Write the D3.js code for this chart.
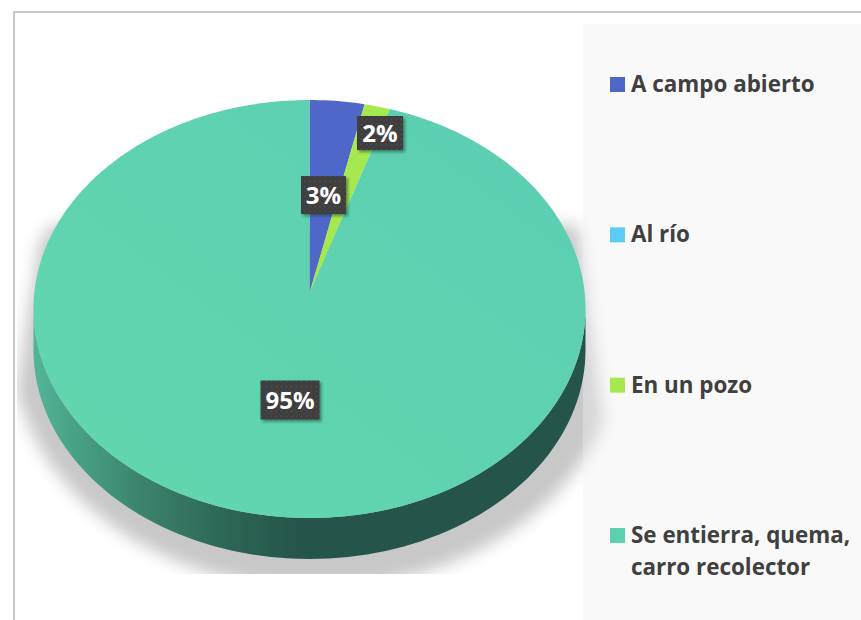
<!DOCTYPE html>
<html><head><meta charset="utf-8">
<script src="https://cdn.jsdelivr.net/npm/d3@7"></script>
<style>html,body{margin:0;padding:0;background:#fff}svg{display:block}</style>
</head><body><div id="c"></div>
<script>
const categories = ["A campo abierto", "Al río", "En un pozo", "Se entierra, quema, carro recolector"];
const values = [3.2, 0, 1.5, 95.3];
const colors = ["#4F67C9", "#5BCDF5", "#A6E94F", "#5CD0B1"];
const legendLines = [["A campo abierto"], ["Al río"], ["En un pozo"], ["Se entierra, quema,", "carro recolector"]];

const W = 861, H = 620;
const cx = 309.5, cy = 309, rx = 276, ry = 209, depth = 41, apexLift = 16;
const font = "'Open Sans', sans-serif";
const labelPos = [[323.5, 195], null, [380, 133], [290, 400]];
const labelSize = [[45, 38], null, [46, 34], [59, 39]];

const svg = d3.select("#c").append("svg").attr("width", W).attr("height", H);
const defs = svg.append("defs");

const sideGrad = defs.append("linearGradient").attr("id", "side").attr("gradientUnits", "userSpaceOnUse")
  .attr("x1", cx - rx).attr("x2", cx + rx).attr("y1", 0).attr("y2", 0);
[[0, "#53B598"], [.08, "#47A086"], [.2, "#3B826C"], [.35, "#2D6656"], [.48, "#25544A"], [1, "#25544A"]]
  .forEach(([o, c]) => sideGrad.append("stop").attr("offset", o).attr("stop-color", c));

const topGrad = defs.append("linearGradient").attr("id", "topFill").attr("x1", 0).attr("y1", 1).attr("x2", 1).attr("y2", 0);
[[0, "#62D7AE"], [.45, "#5FD3B0"], [1, "#5BCEB3"]]
  .forEach(([o, c]) => topGrad.append("stop").attr("offset", o).attr("stop-color", c));

defs.append("filter").attr("id", "blur").attr("x", "-10%").attr("y", "-10%").attr("width", "120%").attr("height", "120%")
  .append("feGaussianBlur").attr("stdDeviation", 8);
const ds = defs.append("filter").attr("id", "boxShadow").attr("x", "-20%").attr("y", "-20%").attr("width", "150%").attr("height", "150%");
ds.append("feDropShadow").attr("dx", 2).attr("dy", 2).attr("stdDeviation", 1.6).attr("flood-color", "#0b3a2c").attr("flood-opacity", .55);
const pat = defs.append("pattern").attr("id", "dots").attr("patternUnits", "userSpaceOnUse").attr("width", 5).attr("height", 5);
pat.append("rect").attr("width", 5).attr("height", 5).attr("fill", "#3E3E3E");
pat.append("circle").attr("cx", 1.5).attr("cy", 1.5).attr("r", 1).attr("fill", "#4C4C4C");
pat.append("circle").attr("cx", 4).attr("cy", 4).attr("r", .8).attr("fill", "#484848");

defs.append("clipPath").attr("id", "shadowOuter").append("rect")
  .attr("x", 17).attr("y", 0).attr("width", 700).attr("height", 574);
defs.append("clipPath").attr("id", "shadowTaper").append("polygon")
  .attr("points", [[42, 225], [15, 400], [12, 620], [622, 620], [606, 440], [578, 225]].join(" "));

// frame
svg.append("rect").attr("x", 14).attr("y", 12).attr("width", W).attr("height", H).attr("fill", "#fff")
  .attr("stroke", "#C8C8C8").attr("stroke-width", 2);

// legend panel
const panel = () => svg.append("rect").attr("x", 583).attr("y", 24.5).attr("width", W - 583).attr("height", H - 24).attr("fill", "#FAFAFA");
panel();

// shadow
svg.append("g").attr("clip-path", "url(#shadowOuter)")
  .append("g").attr("filter", "url(#blur)")
  .append("g").attr("clip-path", "url(#shadowTaper)")
  .append("ellipse").attr("cx", cx + 6).attr("cy", 345).attr("rx", 304).attr("ry", 243).attr("fill", "#C8C8C8");
panel().attr("opacity", .3);

// extrusion
const rimX = a => cx + rx * Math.sin(a), rimY = a => cy - ry * Math.cos(a);
const lower = d3.range(90, 270.5, 2).map(d => d * Math.PI / 180);
const side = d3.line()([
  ...lower.map(a => [rimX(a), rimY(a)]),
  ...lower.slice().reverse().map(a => [rimX(a), rimY(a) + depth])
]) + "Z";
svg.append("path").attr("d", side).attr("fill", "url(#side)");

// slices
const arcs = d3.pie().sort(null).value(d => d)(values);
const slicePath = d => {
  const n = Math.max(2, Math.ceil((d.endAngle - d.startAngle) / .02));
  const pts = d3.range(n + 1).map(i => {
    const a = d.startAngle + (d.endAngle - d.startAngle) * i / n;
    return [rimX(a), rimY(a)];
  });
  return d3.line()([[cx, cy - apexLift], ...pts]) + "Z";
};
svg.append("g").selectAll("path").data(arcs.filter(d => d.value > 0)).join("path")
  .attr("d", slicePath).attr("fill", d => d.index === 3 ? "url(#topFill)" : colors[d.index]);

// data labels
const total = d3.sum(values), fmt = d3.format(".0%");
const lab = svg.append("g").selectAll("g").data(arcs.filter(d => d.value > 0)).join("g")
  .attr("transform", d => `translate(${labelPos[d.index]})`);
lab.append("rect")
  .attr("x", d => -labelSize[d.index][0] / 2).attr("y", d => -labelSize[d.index][1] / 2)
  .attr("width", d => labelSize[d.index][0]).attr("height", d => labelSize[d.index][1])
  .attr("fill", "url(#dots)").attr("filter", "url(#boxShadow)");
lab.append("text").attr("text-anchor", "middle").attr("y", 8.5)
  .attr("font-family", font).attr("font-weight", 700).attr("font-size", 24).attr("fill", "#fff")
  .text(d => fmt(d.value / total));

// legend
const rowY = d3.scalePoint().domain(categories).range([84.5, 535.5]);
const leg = svg.append("g").selectAll("g").data(categories).join("g")
  .attr("transform", d => `translate(610,${rowY(d)})`);
leg.append("rect").attr("x", 0).attr("y", -7.5).attr("width", 15).attr("height", 15)
  .attr("fill", (d, i) => colors[i]);
leg.each(function (d, i) {
  d3.select(this).selectAll("text").data(legendLines[i]).join("text")
    .attr("x", 21).attr("y", (t, j) => 7.5 + j * 32)
    .attr("font-family", font).attr("font-weight", 700).attr("font-size", 22.4).attr("fill", "#404040")
    .text(t => t);
});
</script></body></html>
